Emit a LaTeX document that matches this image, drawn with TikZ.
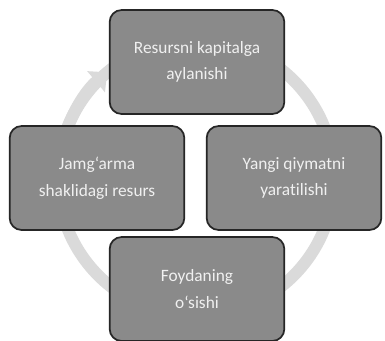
\documentclass[tikz,border=0pt]{standalone}
\usepackage{fontspec}
\setmainfont{Carlito}[Ligatures=CommonOff]
\usepackage{xcolor}
\definecolor{boxgray}{RGB}{138,138,138}
\definecolor{ringgray}{RGB}{218,218,218}
\usetikzlibrary{arrows.meta,calc}

\begin{document}
\begin{tikzpicture}[
    x=0.75pt, y=0.75pt,
    stage/.style={rectangle, rounded corners=9pt, minimum width=131pt, minimum height=78pt, align=center, text centered, draw=black!85, line width=1.3pt, fill=boxgray, text=white!94!black, font=\fontsize{13}{20}\selectfont},
    ring/.style={draw=ringgray, line width=9pt}
]
\useasboundingbox[fill=white] (0,0) rectangle (385,340);

\coordinate (hub) at (196,162);

% ring behind the boxes
\draw[ring] (hub) circle[radius=138];
\draw[ring, -{Triangle[width=20pt,length=11pt]}] ($(hub)+(165:138)$) arc[start angle=165, end angle=130, radius=138];

\node[stage] (capital) at (197,278) {Resursni kapitalga\\aylanishi};
\node[stage] (stock) at (97,162) {Jamg‘arma\\shaklidagi resurs};
\node[stage] (value) at (294,162) {Yangi qiymatni\\yaratilishi};
\node[stage] (profit) at (197,51) {Foydaning\\o‘sishi};

\end{tikzpicture}
\end{document}
